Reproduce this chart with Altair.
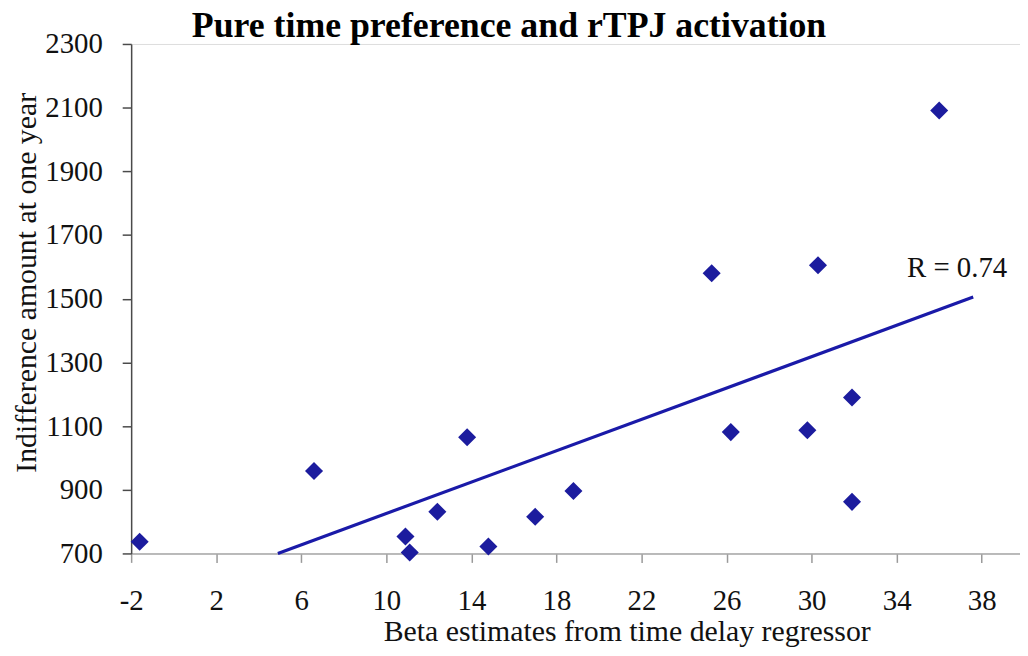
import altair as alt
import pandas as pd

# Data
beta = [-1.6, 6.6, 10.9, 11.1, 12.4, 13.8, 14.8, 17.0, 18.8, 25.3, 26.2, 29.8, 30.3, 31.9, 31.9, 36.0]
amount = [737, 959, 753, 703, 831, 1065, 722, 815, 896, 1580, 1081, 1087, 1605, 1190, 862, 2091]

trend_x = [4.9, 37.6]
trend_y = [700, 1505]

label_x = [39.2]
label_y = [1567]
label_text = ["R = 0.74"]

x_ticks = [-2, 2, 6, 10, 14, 18, 22, 26, 30, 34, 38]
y_ticks = [700, 900, 1100, 1300, 1500, 1700, 1900, 2100, 2300]

FONT = "Liberation Serif"
POINT_COLOR = "#1c1c9e"
LINE_COLOR = "#1a1aa8"

pts = pd.DataFrame({"beta": beta, "amount": amount})
trend = pd.DataFrame({"beta": trend_x, "amount": trend_y})
lab = pd.DataFrame({"beta": label_x, "amount": label_y, "text": label_text})

xscale = alt.Scale(domain=[-2, 39.8], nice=False, zero=False)
yscale = alt.Scale(domain=[700, 2300], nice=False, zero=False)

xaxis = alt.Axis(
    values=x_ticks, title="Beta estimates from time delay regressor",
    labelExpr="toString(datum.value)",
    grid=False, domainColor="#a8a8a8", tickColor="#9a9a9a", tickSize=9,
    domainWidth=1.5, tickWidth=1.5,
    labelFont=FONT, labelFontSize=29, labelColor="#111", labelPadding=24,
    labelFlush=False, labelOverlap=False,
    titleFont=FONT, titleFontSize=30, titleFontWeight="normal", titleColor="#111",
    titleAlign="center", titleBaseline="alphabetic", titleX=499, titleY=88,
)
yaxis = alt.Axis(
    values=y_ticks, title="Indifference amount at one year",
    labelExpr="toString(datum.value)",
    grid=False, domainColor="#4a4a4a", tickColor="#4a4a4a", tickSize=9,
    domainWidth=1.5, tickWidth=1.5,
    labelFont=FONT, labelFontSize=29, labelColor="#111", labelPadding=20,
    labelFlush=False, labelOverlap=False,
    titleFont=FONT, titleFontSize=30, titleFontWeight="normal", titleColor="#111",
    titleAngle=270, titleAlign="center", titleBaseline="alphabetic",
    titleX=-96, titleY=240,
)

points = alt.Chart(pts).mark_point(
    shape="diamond", filled=True, size=330, color=POINT_COLOR, opacity=1
).encode(
    x=alt.X("beta:Q", scale=xscale, axis=xaxis),
    y=alt.Y("amount:Q", scale=yscale, axis=yaxis),
)

line = alt.Chart(trend).mark_line(color=LINE_COLOR, strokeWidth=3.2).encode(
    x=alt.X("beta:Q", scale=xscale),
    y=alt.Y("amount:Q", scale=yscale),
)

text = alt.Chart(lab).mark_text(
    font=FONT, fontSize=29, align="right", baseline="alphabetic", color="#111"
).encode(
    x=alt.X("beta:Q", scale=xscale),
    y=alt.Y("amount:Q", scale=yscale),
    text="text:N",
)

chart = alt.layer(line, points, text).properties(
    width=895,
    height=513,
    autosize="none",
    padding={"left": 124, "top": 34, "right": 0, "bottom": 93},
    title=alt.TitleParams(
        "Pure time preference and rTPJ activation",
        font=FONT, fontSize=36, fontWeight="bold", color="#000",
        anchor="middle", baseline="alphabetic", offset=8, dx=-67, dy=51,
    ),
).configure_view(stroke=None).configure(background="white")

chart.save("out.html", embed_options={"renderer": "svg", "actions": False})
